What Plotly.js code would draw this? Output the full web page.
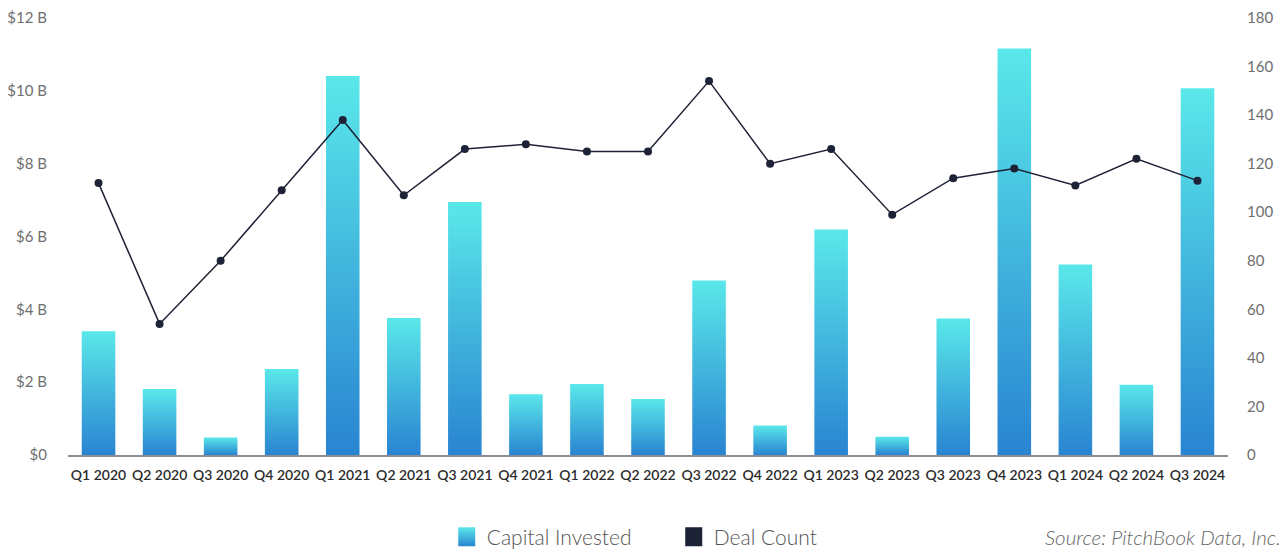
<!DOCTYPE html>
<html>
<head>
<meta charset="utf-8">
<script src="https://cdn.plot.ly/plotly-3.0.1.min.js"></script>
<style>
  html, body { margin: 0; padding: 0; background: #ffffff; }
  #chart { width: 1283px; height: 550px; }
</style>
</head>
<body>
<div id="chart"></div>
<script>
// ---- Data ----
const quarters = ['Q1 2020','Q2 2020','Q3 2020','Q4 2020','Q1 2021','Q2 2021','Q3 2021','Q4 2021',
  'Q1 2022','Q2 2022','Q3 2022','Q4 2022','Q1 2023','Q2 2023','Q3 2023','Q4 2023','Q1 2024','Q2 2024','Q3 2024'];
const capitalInvested = [3.40, 1.81, 0.48, 2.36, 10.41, 3.76, 6.95, 1.67, 1.95, 1.54, 4.79, 0.81, 6.19, 0.50, 3.75, 11.16, 5.23, 1.93, 10.07];
const dealCount = [112, 54, 80, 109, 138, 107, 126, 128, 125, 125, 154, 120, 126, 99, 114, 118, 111, 122, 113];
const leftTickVals = [0, 2, 4, 6, 8, 10, 12];
const leftTickText = ['$0', '$2 B', '$4 B', '$6 B', '$8 B', '$10 B', '$12 B'];
const rightTickVals = [0, 20, 40, 60, 80, 100, 120, 140, 160, 180];
const rightTickText = ['0', '20', '40', '60', '80', '100', '120', '140', '160', '180'];
const seriesNames = ['Capital Invested', 'Deal Count'];
const sourceText = 'Source: PitchBook Data, Inc.';

// ---- Styles ----
const gradTop = '#5AE8EA';
const gradBottom = '#2984D1';
const navy = '#1E2236';
const font = 'Lato, "Open Sans", sans-serif';

const traces = [
  {
    type: 'bar', name: seriesNames[0], x: quarters, y: capitalInvested,
    yaxis: 'y', width: 0.55,
    marker: { color: '#40BDE0', line: { width: 0 } },
    hoverinfo: 'x+y'
  },
  {
    type: 'scatter', mode: 'lines+markers', name: seriesNames[1], x: quarters, y: dealCount,
    yaxis: 'y2', showlegend: true,
    line: { color: navy, width: 1.5 },
    marker: { color: navy, size: 8 }
  }
];

const layout = {
  width: 1283, height: 550,
  margin: { l: 68, r: 55, t: 18, b: 95, autoexpand: false },
  paper_bgcolor: '#ffffff', plot_bgcolor: '#ffffff',
  barmode: 'overlay',
  font: { family: font, color: '#6b6b6b' },
  showlegend: true,
  legend: {
    orientation: 'h', x: 0.3265, xanchor: 'left', y: -0.188, yanchor: 'middle',
    font: { family: font, size: 21, color: '#555555', weight: 300 },
    entrywidth: 182, itemclick: false, itemdoubleclick: false
  },
  xaxis: {
    type: 'category', range: [-0.5, 18.5],
    showgrid: false, zeroline: false,
    showline: true, linecolor: '#8a8d96', linewidth: 1.5,
    ticks: '', tickfont: { family: font, size: 14, color: '#2b2b2b', weight: 600 },
    ticklabelstandoff: 6, fixedrange: true
  },
  yaxis: {
    range: [0, 12], tickmode: 'array', tickvals: leftTickVals, ticktext: leftTickText,
    showgrid: false, zeroline: false, showline: false, ticks: '',
    tickfont: { family: font, size: 15, color: '#6f6f6f' },
    ticklabelstandoff: 20, fixedrange: true
  },
  yaxis2: {
    range: [0, 180], overlaying: 'y', side: 'right',
    tickmode: 'array', tickvals: rightTickVals, ticktext: rightTickText,
    showgrid: false, zeroline: false, showline: false, ticks: '',
    tickfont: { family: font, size: 15, color: '#6f6f6f' },
    ticklabelstandoff: 18, fixedrange: true
  },
  annotations: [{
    text: sourceText, xref: 'paper', yref: 'paper', x: 1.047, y: -0.188,
    xanchor: 'right', yanchor: 'middle', showarrow: false,
    font: { family: font, size: 20.5, color: '#666666', style: 'italic', weight: 300 }
  }]
};

function applyGradient(gd) {
  const NS = 'http://www.w3.org/2000/svg';
  const svg = gd.querySelector('svg.main-svg');
  if (!svg) return;
  let defs = svg.querySelector('defs');
  if (!defs) { defs = document.createElementNS(NS, 'defs'); svg.insertBefore(defs, svg.firstChild); }
  if (!svg.querySelector('#barGradCI')) {
    const lg = document.createElementNS(NS, 'linearGradient');
    lg.setAttribute('id', 'barGradCI');
    lg.setAttribute('x1', '0'); lg.setAttribute('y1', '0');
    lg.setAttribute('x2', '0'); lg.setAttribute('y2', '1');
    [[0, gradTop], [1, gradBottom]].forEach(([o, c]) => {
      const s = document.createElementNS(NS, 'stop');
      s.setAttribute('offset', String(o));
      s.setAttribute('stop-color', c);
      lg.appendChild(s);
    });
    defs.appendChild(lg);
  }
  gd.querySelectorAll('.barlayer .trace.bars path').forEach(p => { p.style.fill = 'url(#barGradCI)'; });
  const legendTraces = gd.querySelectorAll('.legend .traces');
  legendTraces.forEach((t, i) => {
    t.querySelectorAll('.legendlines path').forEach(p => { p.style.display = 'none'; });
    const pts = t.querySelectorAll('.legendpoints path');
    pts.forEach(p => {
      p.setAttribute('d', 'M8.5,9.5H-8.5V-9.5H8.5Z');
      p.style.strokeWidth = '0';
      p.style.fill = (i === 0) ? 'url(#barGradCI)' : navy;
    });
  });
}

const gd = document.getElementById('chart');
Plotly.newPlot(gd, traces, layout, { displayModeBar: false }).then(() => {
  applyGradient(gd);
  gd.on('plotly_afterplot', () => applyGradient(gd));
});
</script>
</body>
</html>
